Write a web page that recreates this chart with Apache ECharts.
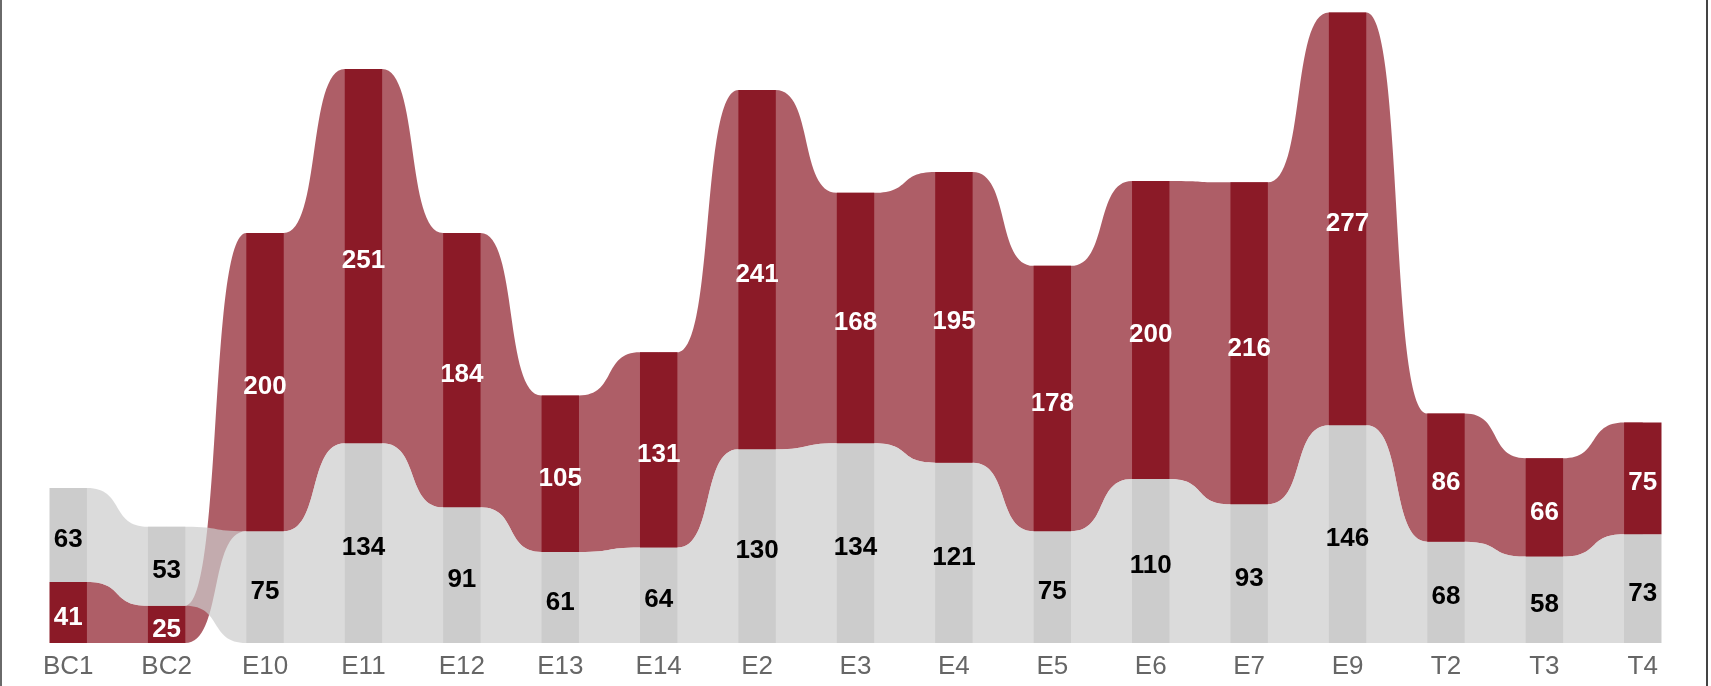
<!DOCTYPE html>
<html><head><meta charset="utf-8">
<script src="https://cdn.jsdelivr.net/npm/echarts@6/dist/echarts.min.js"></script>
<style>
html,body{margin:0;padding:0;background:#fff;overflow:hidden;}
#chart{position:absolute;left:0;top:0;width:1711px;height:686px;}
#frame{position:absolute;left:0;top:0;width:1704px;height:686px;border-left:2px solid #6a6a6a;border-right:2px solid #444;pointer-events:none;z-index:5;}
</style></head><body>
<div id="chart"></div>
<div id="frame"></div>
<script>
const categories = ['BC1','BC2','E10','E11','E12','E13','E14','E2','E3','E4','E5','E6','E7','E9','T2','T3','T4'];
const grayValues = [63,53,75,134,91,61,64,130,134,121,75,110,93,146,68,58,73];
const redValues  = [41,25,200,251,184,105,131,241,168,195,178,200,216,277,86,66,75];

const RED = '#8b1a27', GRAY = '#cccccc';
const RED_RIBBON = 'rgba(139,26,39,0.7)', GRAY_RIBBON = 'rgba(204,204,204,0.7)';
const BAR_RATIO = 0.38, K = 0.62;

// smaller value stacked at the bottom
const redLow = categories.map((c,i) => redValues[i] < grayValues[i]);
const lowerData = categories.map((c,i) => ({
  value: redLow[i] ? redValues[i] : grayValues[i],
  itemStyle: {color: redLow[i] ? RED : GRAY},
  label: {color: redLow[i] ? '#fff' : '#000'}
}));
const upperData = categories.map((c,i) => ({
  value: redLow[i] ? grayValues[i] : redValues[i],
  itemStyle: {color: redLow[i] ? GRAY : RED},
  label: {color: redLow[i] ? '#000' : '#fff'}
}));
function segment(isRed, i) {
  const v = isRed ? redValues[i] : grayValues[i];
  const low = isRed ? redLow[i] : !redLow[i];
  const other = isRed ? grayValues[i] : redValues[i];
  const b = low ? 0 : other;
  return [b, b + v];
}
const gapData = categories.slice(0, -1).map((c,i) => [i]);

function ribbon(isRed, color) {
  return function(params, api) {
    const i = api.value(0);
    const band = api.size([1, 0])[0];
    const bw = band * BAR_RATIO;
    const s0 = segment(isRed, i), s1 = segment(isRed, i + 1);
    const pb0 = api.coord([i, s0[0]]), pt0 = api.coord([i, s0[1]]);
    const pb1 = api.coord([i + 1, s1[0]]), pt1 = api.coord([i + 1, s1[1]]);
    const cx0 = pb0[0], cx1 = pb1[0];
    const x0 = cx0 + bw / 2, x1 = cx1 - bw / 2, dx = x1 - x0;
    const t0 = pt0[1], b0 = pb0[1], t1 = pt1[1], b1 = pb1[1];
    const d = `M${cx0},${t0} L${x0},${t0} C${x0 + K*dx},${t0} ${x1 - K*dx},${t1} ${x1},${t1} L${cx1},${t1} ` +
              `L${cx1},${b1} L${x1},${b1} C${x1 - K*dx},${b1} ${x0 + K*dx},${b0} ${x0},${b0} L${cx0},${b0} Z`;
    return {type: 'path', shape: {pathData: d}, style: {fill: color}};
  };
}

const chart = echarts.init(document.getElementById('chart'));
const labelFont = {show: true, position: 'inside', offset: [0, 5], fontSize: 26, fontWeight: 'bold', fontFamily: 'Liberation Sans, Arial, sans-serif', formatter: '{c}'};
chart.setOption({
  animation: false,
  grid: {left: 19, right: 19, top: 2, bottom: 43},
  xAxis: {
    type: 'category', data: categories,
    axisLine: {show: false}, axisTick: {show: false},
    axisLabel: {color: '#666', fontSize: 26, margin: 11, fontFamily: 'Liberation Sans, Arial, sans-serif'}
  },
  yAxis: {type: 'value', min: 0, max: 430, show: false, splitLine: {show: false}},
  series: [
    {type: 'custom', data: gapData, encode: {x: 0}, renderItem: ribbon(true, RED_RIBBON), z: 1, silent: true},
    {type: 'custom', data: gapData, encode: {x: 0}, renderItem: ribbon(false, GRAY_RIBBON), z: 2, silent: true},
    {type: 'bar', stack: 's', barWidth: (BAR_RATIO*100)+'%', data: lowerData, label: labelFont, z: 3},
    {type: 'bar', stack: 's', barWidth: (BAR_RATIO*100)+'%', data: upperData, label: labelFont, z: 3}
  ]
});
</script>
</body></html>
